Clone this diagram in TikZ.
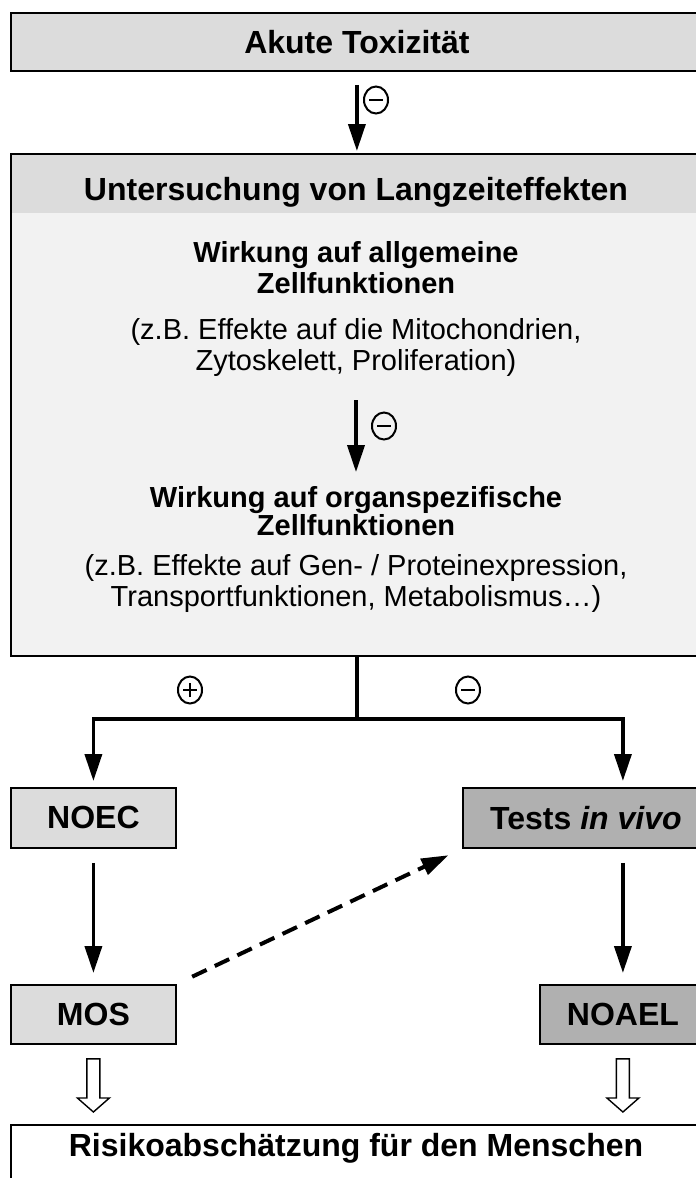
\documentclass[tikz,border=0pt]{standalone}
\usepackage{fontspec}
\setmainfont{Liberation Sans}
\usetikzlibrary{arrows.meta,calc,shapes.geometric}
\definecolor{gl}{HTML}{DCDCDC}
\definecolor{gb}{HTML}{F2F2F2}
\definecolor{gd}{HTML}{B0B0B0}
\newcommand{\hollowarrow}[2]{%
  \draw[line width=1.4pt, fill=white] let \p1=(#1), \p2=(#2) in
    (\x1-6.5pt,\y1) -- (\x1+6.5pt,\y1) -- (\x1+6.5pt,\y2+14pt) -- (\x1+16pt,\y2+14pt)
    -- (\x1,\y2) -- (\x1-16pt,\y2+14pt) -- (\x1-6.5pt,\y2+14pt) -- cycle;}
\begin{document}
\begin{tikzpicture}[x=1pt,y=-1pt,
  box/.style={draw=black, line width=1.8pt, inner sep=0pt, anchor=north west},
  big/.style={font=\bfseries\fontsize{32}{36}\selectfont},
  mid/.style={font=\bfseries\fontsize{29}{31}\selectfont, align=center, inner sep=0pt},
  reg/.style={font=\fontsize{29}{31}\selectfont, align=center, inner sep=0pt},
  arr/.style={line width=3.6pt, -{Triangle[length=27pt,width=17pt]}},
  sign/.style={ellipse, draw, line width=2pt, minimum width=24pt, minimum height=27pt, inner sep=0pt},
  bar/.style={line width=2.4pt}]
\useasboundingbox (0,0) rectangle (696,1178);
\fill[white] (0,0) rectangle (696,1178);
% top box
\node[box, fill=gl, minimum width=692, minimum height=58, big] (akut) at (10,12) {Akute Toxizität};
% big box
\node[box, fill=gb, minimum width=692, minimum height=502] (lang) at (10,153) {};
\fill[gl] ($(lang.north west)+(2,2)$) rectangle ($(lang.north east)+(-2,60)$);
\node[big, inner sep=0pt] (head) at (356,192) {Untersuchung von Langzeiteffekten};
\node[mid] (w1) at (356,268) {Wirkung auf allgemeine\\Zellfunktionen};
\node[reg] (e1) at (356,347) {(z.B. Effekte auf die Mitochondrien,\\Zytoskelett, Proliferation)};
\node[mid, font=\bfseries\fontsize{29}{22}\selectfont] (w2) at (356,511) {Wirkung auf organspezifische\\Zellfunktionen};
\node[reg] (e2) at (356,583) {(z.B. Effekte auf Gen- / Proteinexpression,\\Transportfunktionen, Metabolismus…)};
% lower boxes
\node[box, fill=gl, minimum width=165, minimum height=60, big] (noec) at (10,787) {NOEC};
\node[box, fill=gd, minimum width=246, minimum height=60, big] (tests) at (462,787) {Tests \textit{in vivo}};
\node[box, fill=gl, minimum width=165, minimum height=59, big] (mos) at (10,984) {MOS};
\node[box, fill=gd, minimum width=166, minimum height=59, big] (noael) at (539,984) {NOAEL};
\node[box, fill=white, minimum width=692, minimum height=70] (risk) at (10,1124) {};
\node[big, inner sep=0pt] (risktxt) at (356,1148) {Risikoabschätzung für den Menschen};
% arrows
\draw[arr, shorten <=13pt, shorten >=2pt] (akut.south) -- (lang.north);
\draw[arr, shorten <=24pt, shorten >=14pt] (e1.south) -- (w2.north);
\coordinate (j) at ($(lang.south)+(0,62)$);
\draw[line width=3.6pt] (lang.south) -- (j);
\draw[arr, shorten >=6pt] (j) -| (noec.north);
\draw[arr, shorten >=6pt] (j) -| (noael.north |- tests.north);
\draw[arr, shorten <=14pt, shorten >=11pt] (noec.south) -- (mos.north);
\draw[arr, shorten <=14pt, shorten >=11pt] (noael.north |- tests.south) -- (noael.north);
\draw[arr, line width=4pt, dash pattern=on 16pt off 9pt, shorten <=17pt, shorten >=15pt] (mos.north east) -- (tests.south west);
\hollowarrow{$(mos.south)+(0,14)$}{$(mos.south |- risk.north)+(0,-12)$}
\hollowarrow{$(noael.south)+(0,14)$}{$(noael.south |- risk.north)+(0,-12)$}
% signs
\node[sign] (s1) at (376,100) {};
\draw[bar] ([xshift=-7pt]s1.center) -- ([xshift=7pt]s1.center);
\node[sign] (s2) at (384,426) {};
\draw[bar] ([xshift=-7pt]s2.center) -- ([xshift=7pt]s2.center);
\node[sign] (s3) at (190,690) {};
\draw[bar] ([xshift=-7pt]s3.center) -- ([xshift=7pt]s3.center);
\draw[bar] ([yshift=-7pt]s3.center) -- ([yshift=7pt]s3.center);
\node[sign] (s4) at (468,690) {};
\draw[bar] ([xshift=-7pt]s4.center) -- ([xshift=7pt]s4.center);
\end{tikzpicture}
\end{document}
